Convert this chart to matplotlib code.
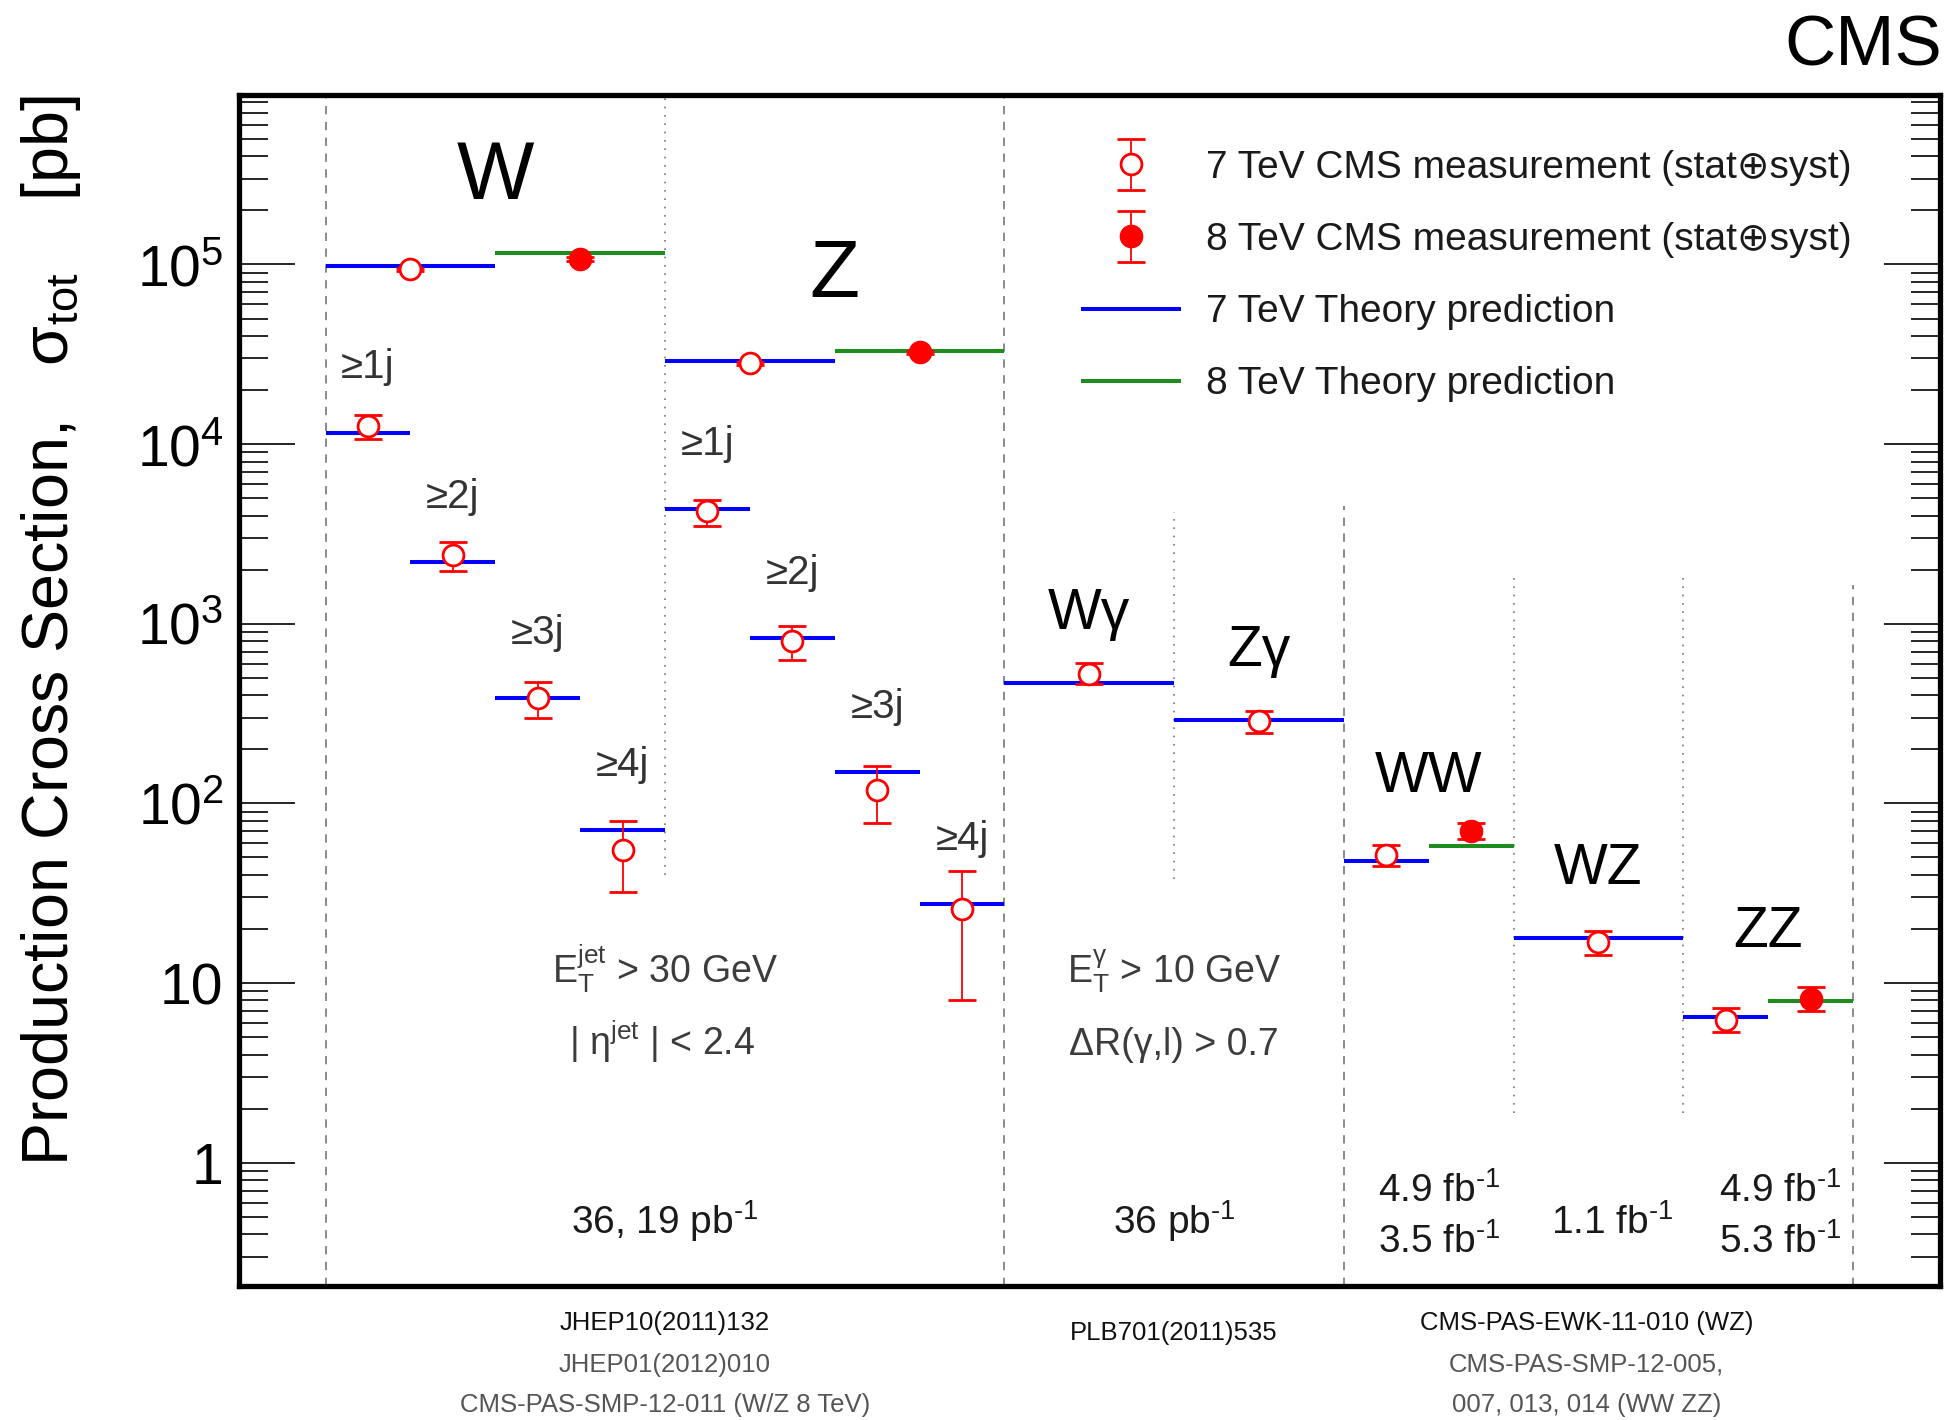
#!/usr/bin/env python3

# Import special modules ...
import matplotlib
matplotlib.use("Agg")
import matplotlib.container
import matplotlib.legend_handler
import matplotlib.pyplot
import matplotlib.ticker
import matplotlib.transforms
import numpy

# ******************************************************************************

# Configure matplotlib ...
matplotlib.pyplot.rcParams.update({
    "font.family"      : ["Liberation Sans", "DejaVu Sans"],
    "mathtext.fontset" : "custom",
    "mathtext.rm"      : "Liberation Sans",
    "mathtext.it"      : "Liberation Sans",
    "mathtext.bf"      : "Liberation Sans:bold",
    "mathtext.default" : "regular",
})

# ******************************************************************************

# 7 TeV theory predictions [pb] and the slot (in channel units) each one spans ...
th7_lo  = [0.0, 0.0, 0.5, 1.0, 1.5, 2.0, 2.0, 2.5, 3.0, 3.5, 4.0, 5.0, 6.0, 7.0, 8.0]
th7_hi  = [1.0, 0.5, 1.0, 1.5, 2.0, 3.0, 2.5, 3.0, 3.5, 4.0, 5.0, 6.0, 6.5, 8.0, 8.5]
th7_val = [9.77e4, 1.16e4, 2.21e3, 386.0, 71.0, 2.89e4, 4.37e3, 829.0, 149.0, 27.5, 470.0, 291.0, 47.5, 17.9, 6.49]
jet_lab = ["", "≥1j", "≥2j", "≥3j", "≥4j", "", "≥1j", "≥2j", "≥3j", "≥4j", "", "", "", "", ""]

# 7 TeV CMS measurements [pb] with their (stat+syst) band ...
ms7_val  = [9.40e4, 1.26e4, 2.42e3, 386.0, 55.2, 2.82e4, 4.26e3, 802.0, 119.0, 25.8, 527.0, 287.0, 51.8, 17.0, 6.24]
ms7_low  = [9.22e4, 1.07e4, 1.97e3, 299.0, 32.1, 2.77e4, 3.49e3, 631.0, 77.6,  8.05, 460.0, 247.0, 45.0, 14.4, 5.37]
ms7_high = [9.58e4, 1.46e4, 2.85e3, 477.0, 80.0, 2.87e4, 4.89e3, 966.0, 162.0, 42.3, 603.0, 327.0, 58.9, 19.4, 7.25]

# 8 TeV theory predictions [pb] and CMS measurements [pb] ...
th8_lo   = [1.0, 3.0, 6.5, 8.5]
th8_hi   = [2.0, 4.0, 7.0, 9.0]
th8_val  = [1.16e5, 3.30e4, 58.1, 7.93]
ms8_val  = [1.07e5, 3.24e4, 69.8, 8.17]
ms8_low  = [1.04e5, 3.17e4, 63.2, 7.03]
ms8_high = [1.10e5, 3.31e4, 77.6, 9.48]

# Channels ...
proc_name = ["W", "Z", "Wγ", "Zγ", "WW", "WZ", "ZZ"]
proc_lo   = [0.0, 2.0, 4.0, 5.0, 6.0, 7.0, 8.0]
proc_hi   = [2.0, 4.0, 5.0, 6.0, 7.0, 8.0, 9.0]
proc_size = [59, 59, 41, 41, 41, 41, 41]

# Axis ...
y_min = 0.206
y_max = 8.78e5
ytick_vals = [1.0, 10.0, 100.0, 1.0e3, 1.0e4, 1.0e5]
ytick_labs = ["1", "10", "10$^{2}$", "10$^{3}$", "10$^{4}$", "10$^{5}$"]

# Separators between channels ...
sep_x   = [0.0, 2.0, 4.0, 5.0, 6.0, 7.0, 8.0, 9.0]
sep_lo  = [y_min, 40.0, y_min, 38.0, y_min, 1.89, 1.89, y_min]
sep_hi  = [y_max, y_max, y_max, 4.2e3, 4.5e3, 1.82e3, 1.82e3, 1.65e3]
sep_dot = [False, True, False, True, False, True, True, False]

# Selection cuts and luminosities ...
cut_text = ["E$_{T}^{jet}$ > 30 GeV", "| $\\eta^{jet}$ | < 2.4", "E$_{T}^{\\gamma}$ > 10 GeV", "ΔR(γ,l) > 0.7"]
cut_x    = [2.0, 1.98, 5.0, 5.0]
cut_y    = [10.07, 3.98, 10.07, 3.98]
lum_text = ["36, 19 pb$^{\\text{-1}}$", "36 pb$^{\\text{-1}}$", "4.9 fb$^{\\text{-1}}$", "3.5 fb$^{\\text{-1}}$",
            "1.1 fb$^{\\text{-1}}$", "4.9 fb$^{\\text{-1}}$", "5.3 fb$^{\\text{-1}}$"]
lum_x    = [2.0, 5.0, 6.56, 6.56, 7.58, 8.57, 8.57]
lum_y    = [0.404, 0.404, 0.607, 0.313, 0.404, 0.607, 0.313]

# References under the axes ...
ref_text = ["JHEP10(2011)132", "JHEP01(2012)010", "CMS-PAS-SMP-12-011 (W/Z 8 TeV)", "PLB701(2011)535",
            "CMS-PAS-EWK-11-010 (WZ)", "CMS-PAS-SMP-12-005,", "007, 013, 014 (WW ZZ)"]
ref_x    = [2.0, 2.0, 2.0, 5.0, 7.43, 7.43, 7.43]
ref_y    = [-0.0311, -0.0663, -0.0999, -0.0395, -0.0311, -0.0663, -0.0999]
ref_col  = ["#111111", "#555555", "#555555", "#111111", "#111111", "#555555", "#555555"]

# ******************************************************************************

# Create plot ...
fg = matplotlib.pyplot.figure(figsize = (19.49, 14.20), dpi = 100)
ax = fg.add_axes([0.1224, 0.0944, 0.8730, 0.8387])
ax.set_yscale("log")
ax.set_xlim(-0.513, 9.513)
ax.set_ylim(y_min, y_max)

# Add separators ...
for x, lo, hi, dot in zip(sep_x, sep_lo, sep_hi, sep_dot):
    ax.vlines(x, lo, hi, colors = "#777777", linewidth = 1.2, linestyles = (0, (1, 4)) if dot else (0, (5, 4.5)), zorder = 1)

# Add theory predictions ...
lc7 = ax.hlines(th7_val, th7_lo, th7_hi, colors = "#0000ff", linewidth = 2.9, zorder = 2)
lc8 = ax.hlines(th8_val, th8_lo, th8_hi, colors = "#1e8c1e", linewidth = 2.9, zorder = 2)

# Add measurements ...
x7 = 0.5 * (numpy.array(th7_lo) + numpy.array(th7_hi))
x8 = 0.5 * (numpy.array(th8_lo) + numpy.array(th8_hi))
v7 = numpy.array(ms7_val)
v8 = numpy.array(ms8_val)
eb7 = ax.errorbar(x7, v7, yerr = [v7 - numpy.array(ms7_low), numpy.array(ms7_high) - v7], fmt = "o", color = "#ff0000",
                  markerfacecolor = "white", markeredgecolor = "#ff0000", markersize = 15, markeredgewidth = 2.0,
                  elinewidth = 1.3, capsize = 10, capthick = 1.5, zorder = 3)
eb8 = ax.errorbar(x8, v8, yerr = [v8 - numpy.array(ms8_low), numpy.array(ms8_high) - v8], fmt = "o", color = "#ff0000",
                  markerfacecolor = "#ff0000", markeredgecolor = "#ff0000", markersize = 15, markeredgewidth = 2.0,
                  elinewidth = 1.3, capsize = 10, capthick = 1.5, zorder = 3)

# Add jet multiplicity labels ...
for lab, lo, hi, val in zip(jet_lab, th7_lo, th7_hi, th7_val):
    if lab:
        ax.text(0.5 * (lo + hi), 2.0 * val, lab, fontsize = 29, color = "#333333", ha = "center", va = "baseline")

# Add channel labels ...
th_all_x = numpy.array(th7_lo + th8_lo)
th_all_v = numpy.array(th7_val + th8_val)
for name, lo, hi, size in zip(proc_name, proc_lo, proc_hi, proc_size):
    top = th_all_v[(th_all_x >= lo) & (th_all_x < hi)].max()
    ax.text(0.5 * (lo + hi), 2.0 * top, name, fontsize = size, color = "black", ha = "center", va = "baseline")

# Add cuts and luminosities ...
for txt, x, y in zip(cut_text, cut_x, cut_y):
    ax.text(x, y, txt, fontsize = 27, color = "#3c3c3c", ha = "center", va = "baseline")
for txt, x, y in zip(lum_text, lum_x, lum_y):
    ax.text(x, y, txt, fontsize = 28, color = "#1a1a1a", ha = "center", va = "baseline")

# Add references ...
tr = matplotlib.transforms.blended_transform_factory(ax.transData, ax.transAxes)
for txt, x, y, col in zip(ref_text, ref_x, ref_y, ref_col):
    ax.text(x, y, txt, transform = tr, fontsize = 18.5, color = col, ha = "center", va = "center", clip_on = False)

# Configure axes ...
ax.yaxis.set_major_locator(matplotlib.ticker.FixedLocator(ytick_vals))
ax.yaxis.set_major_formatter(matplotlib.ticker.FixedFormatter(ytick_labs))
ax.yaxis.set_minor_locator(matplotlib.ticker.LogLocator(base = 10.0, subs = numpy.arange(2, 10), numticks = 100))
ax.yaxis.set_minor_formatter(matplotlib.ticker.NullFormatter())
ax.tick_params(axis = "y", which = "major", direction = "in", length = 40, width = 1.2, labelsize = 41, pad = 10.8, left = True, right = True)
ax.tick_params(axis = "y", which = "minor", direction = "in", length = 21, width = 1.2, left = True, right = True)
ax.tick_params(axis = "x", which = "both", bottom = False, top = False, labelbottom = False)
for sp in ax.spines.values():
    sp.set_linewidth(3.8)

# Add axis title ...
ax.set_ylabel("Production Cross Section,   $\\sigma_{tot}$    [pb]", fontsize = 46.5, loc = "top", va = "baseline")
ax.yaxis.set_label_coords(-0.1001, 1.0)

# Add legend ...
lg = ax.legend(
    handles = [eb7, eb8, lc7, lc8],
    labels = ["7 TeV CMS measurement (stat⊕syst)", "8 TeV CMS measurement (stat⊕syst)", "7 TeV Theory prediction", "8 TeV Theory prediction"],
    loc = "upper left",
    bbox_to_anchor = (0.4954, 0.954),
    borderaxespad = 0.0,
    borderpad = 0.0,
    frameon = False,
    fontsize = 28,
    labelspacing = 0.93,
    handlelength = 2.57,
    handletextpad = 0.64,
    numpoints = 1,
    handler_map = {matplotlib.container.ErrorbarContainer : matplotlib.legend_handler.HandlerErrorbar(yerr_size = 0.656)},
)
for t in lg.get_texts():
    t.set_color("#1a1a1a")

# Add experiment label ...
fg.text(0.9964, 0.9542, "CMS", fontsize = 51, ha = "right", va = "baseline")

# Save plot ...
fg.savefig("out.png", dpi = 100)
matplotlib.pyplot.close(fg)
